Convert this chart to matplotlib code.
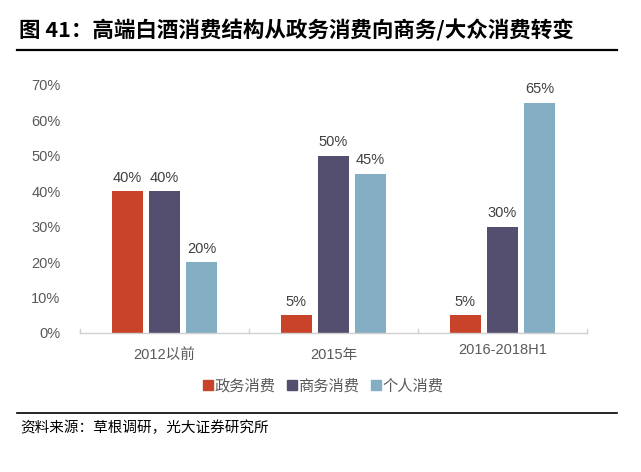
import numpy as np
import matplotlib.pyplot as plt
from matplotlib.lines import Line2D

plt.rcParams['font.family'] = ['Noto Sans CJK SC', 'DejaVu Sans']

categories = ['2012以前', '2015年', '2016-2018H1']
series_names = ['政务消费', '商务消费', '个人消费']
gov = [40, 5, 5]
biz = [40, 50, 30]
personal = [20, 45, 65]
yticks = [0, 10, 20, 30, 40, 50, 60, 70]

colors = ['#C8432A', '#544F6E', '#84AEC3']
latin = ['Liberation Sans', 'Noto Sans CJK SC']

fig = plt.figure(figsize=(6.41, 4.72), dpi=100)
W, H = 641, 472

# axes: x from 80 to 587 px, y 0% at 333, 70% at 85
ax = fig.add_axes([80 / W, 1 - 333 / H, (587 - 80) / W, (333 - 85) / H])

x = np.arange(len(categories))
bw = 0.185
step = 0.22
for i, (vals, c) in enumerate(zip([gov, biz, personal], colors)):
    pos = x + (i - 1) * step
    ax.bar(pos, vals, width=bw, color=c, label=series_names[i])
    for p, v in zip(pos, vals):
        ax.text(p, v + 1.8, f'{v}%', ha='center', va='bottom', fontsize=10.5,
                color='#404040', family=latin)

ax.set_xlim(-0.5, 2.5)
ax.set_ylim(0, 70)
ax.set_yticks(yticks)
ax.set_yticklabels([f'{t}%' for t in yticks], family=latin)
ax.tick_params(axis='y', length=0, labelsize=10.5, labelcolor='#595959', pad=14)
ax.set_xticks([])
for s in ['top', 'right', 'left']:
    ax.spines[s].set_visible(False)
ax.spines['bottom'].set_color('#D0D0D0')
ax.spines['bottom'].set_linewidth(1)
# category separator ticks
for b in [-0.5, 0.5, 1.5, 2.5]:
    ax.plot([b, b], [0, 1.2], color='#D0D0D0', lw=1, clip_on=False)

label_y = [355, 355, 350]
for xi, lab, ly in zip(x, categories, label_y):
    fig.text((80 + (xi + 0.5) * 169) / W, 1 - ly / H, lab, ha='center', va='center',
             fontsize=10.5, color='#595959', family=latin)

handles = [Line2D([], [], marker='s', ls='', color=c, markersize=6.5) for c in colors]
fig.legend(handles, series_names, loc='center', bbox_to_anchor=(322 / W, 1 - 386 / H),
           ncol=3, frameon=False, fontsize=11, handletextpad=-0.1, handlelength=1.0,
           columnspacing=0.6, labelcolor='#595959')

# title, rules and source
fig.text(19 / W, 1 - 30 / H, '图 41：高端白酒消费结构从政务消费向商务/大众消费转变',
         fontsize=15.5, fontweight='bold', va='center', ha='left', color='black')
fig.add_artist(Line2D([17 / W, 617 / W], [1 - 50 / H, 1 - 50 / H], color='black', lw=1.6))
fig.add_artist(Line2D([17 / W, 617 / W], [1 - 413 / H, 1 - 413 / H], color='black', lw=1.2))
fig.text(20 / W, 1 - 428 / H, '资料来源：草根调研，光大证券研究所', fontsize=10.5,
         fontweight='medium', va='center', ha='left', color='black')

fig.savefig('out.png', dpi=100)
